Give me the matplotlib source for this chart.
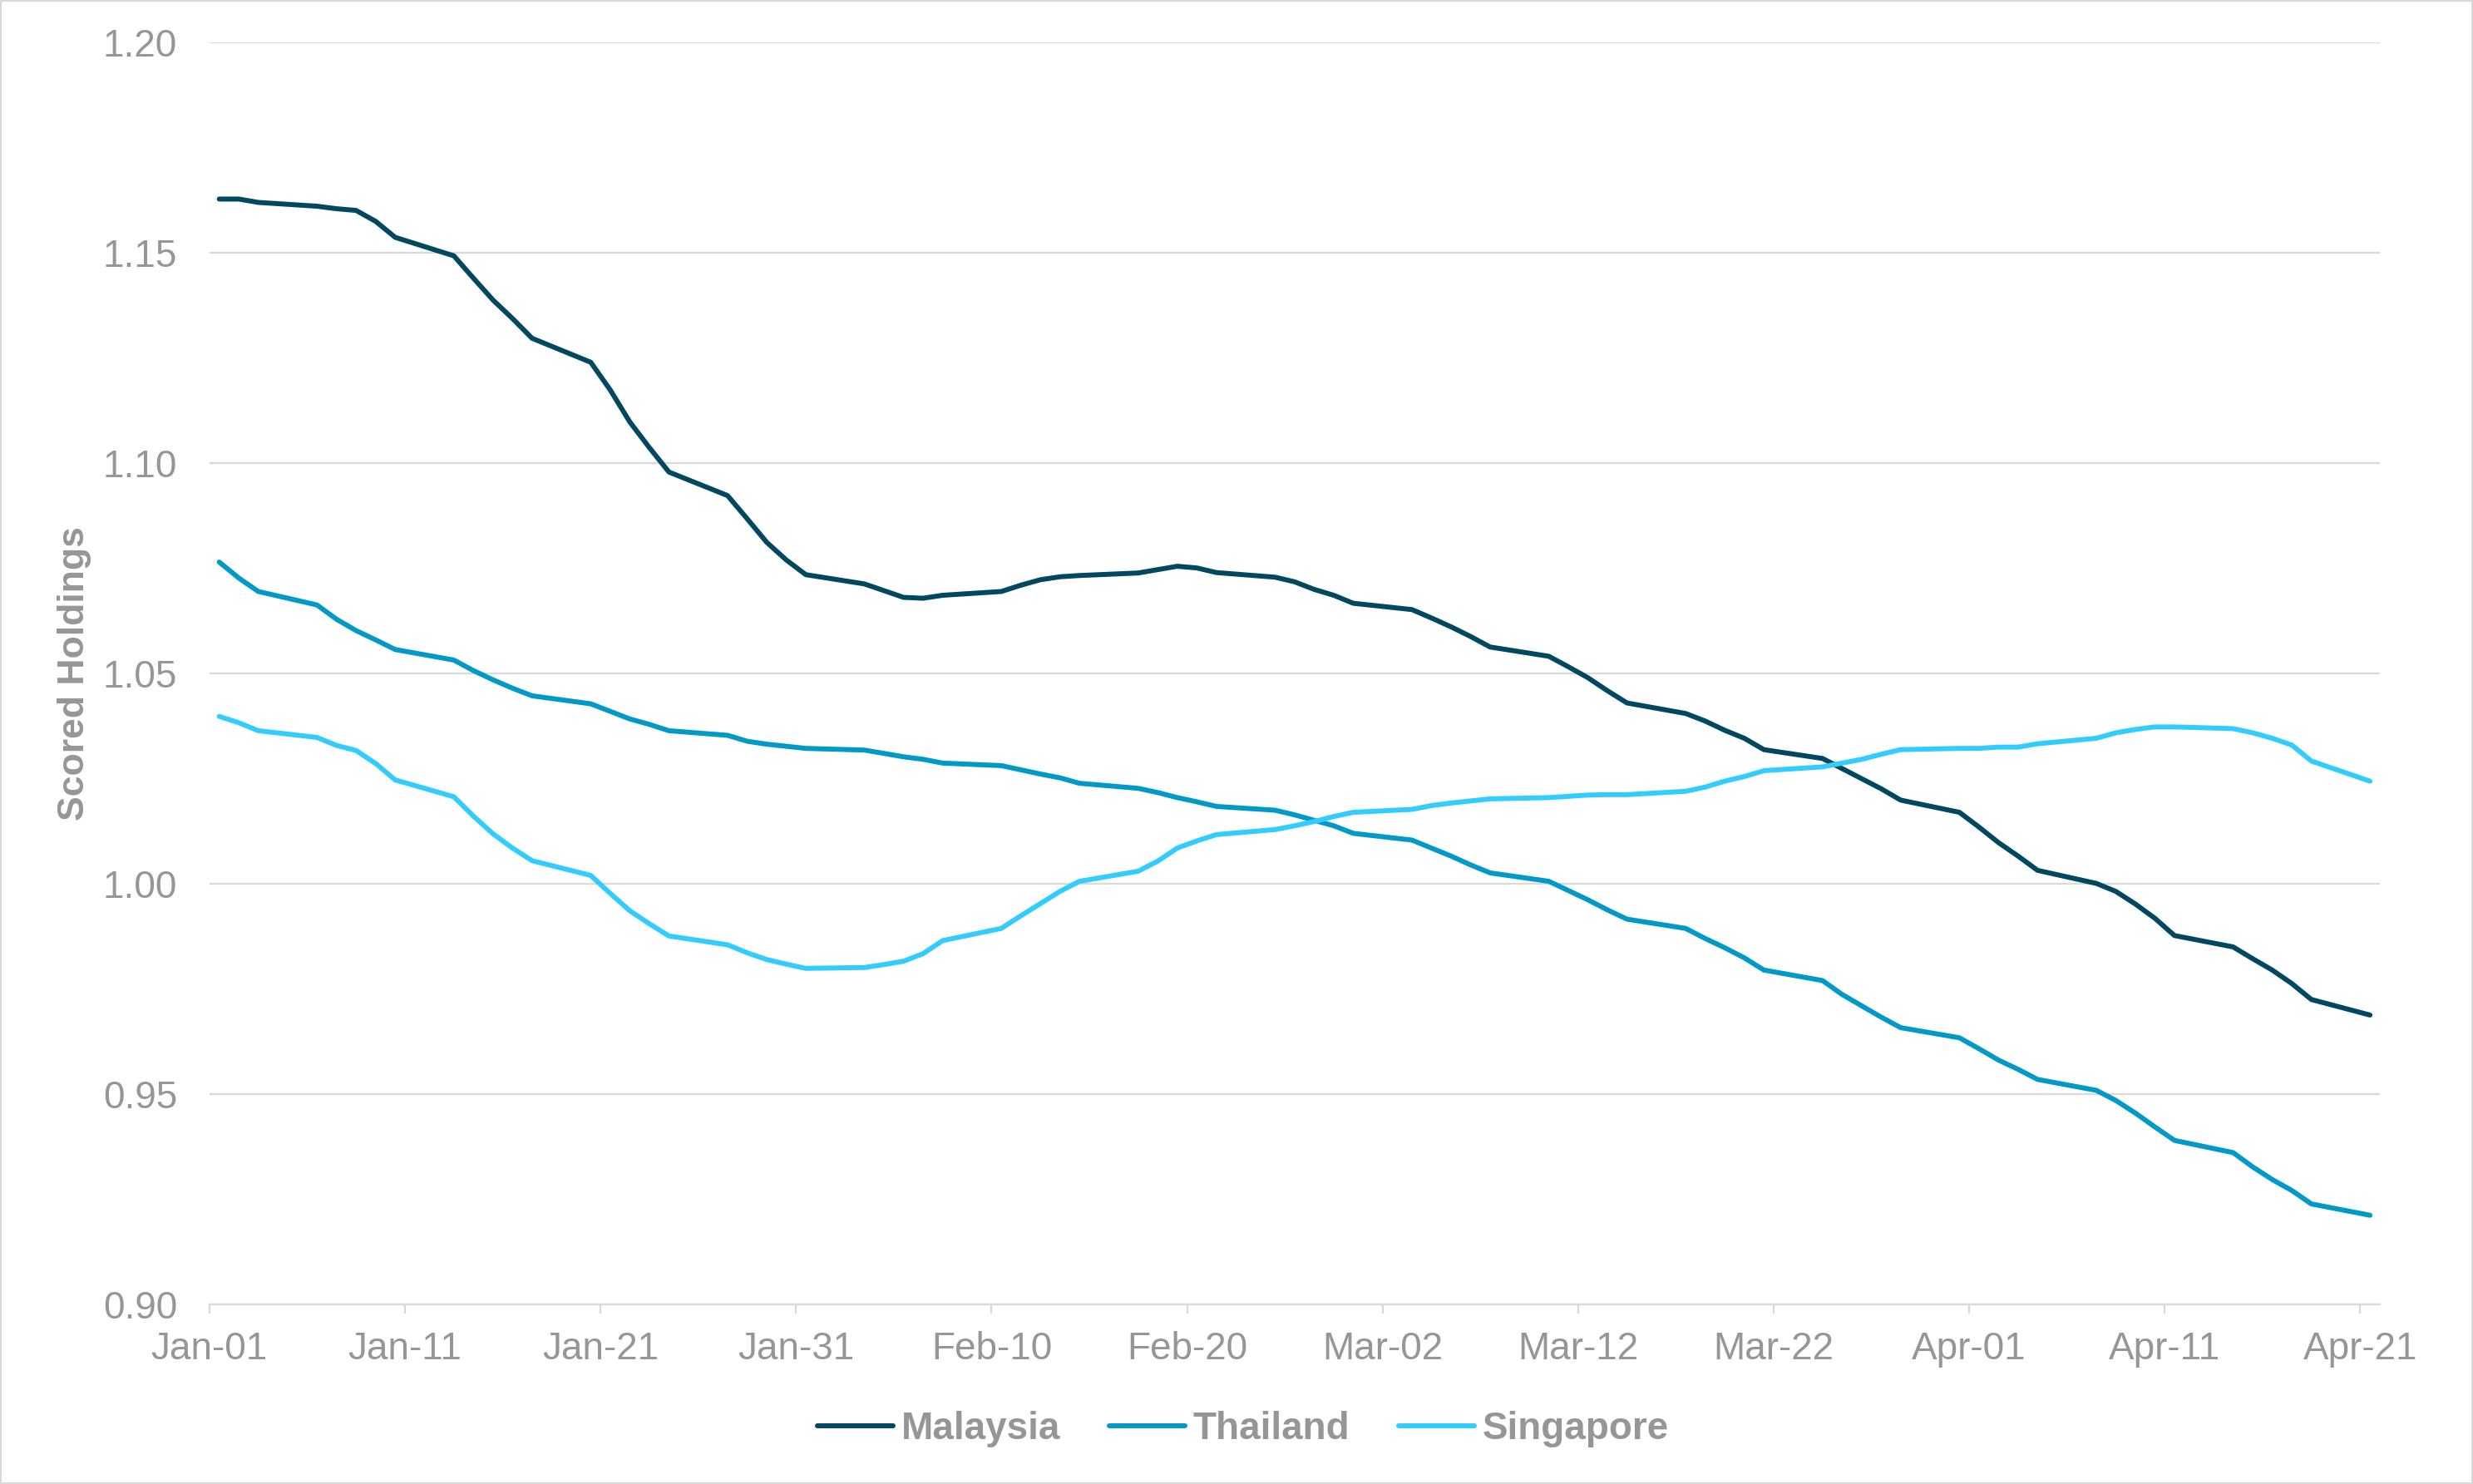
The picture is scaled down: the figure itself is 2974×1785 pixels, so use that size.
import matplotlib
matplotlib.use("Agg")
import matplotlib.pyplot as plt
import matplotlib.dates as mdates
from matplotlib.patches import Rectangle
from matplotlib.ticker import FormatStrFormatter
import pandas as pd
import numpy as np

plt.rcParams['font.family'] = ['Liberation Sans', 'DejaVu Sans']

# Business days, Jan-01 .. Apr-21
dates = pd.bdate_range('2025-01-01', '2025-04-21')

malaysia = [
    1.1628, 1.1628, 1.1620, 1.1611, 1.1605, 1.1601, 1.1575, 1.1537, 1.1493, 1.1440,
    1.1388, 1.1344, 1.1297, 1.1240, 1.1174, 1.1098, 1.1037, 1.0979, 1.0923, 1.0868,
    1.0812, 1.0770, 1.0735,
    1.0713, 1.0697, 1.0681, 1.0679, 1.0686, 1.0695, 1.0710, 1.0723, 1.0730, 1.0733,
    1.0739, 1.0747, 1.0755, 1.0751, 1.0740, 1.0729, 1.0718, 1.0700, 1.0686, 1.0667,
    1.0652, 1.0632, 1.0611, 1.0588, 1.0563, 1.0541, 1.0516, 1.0490, 1.0459, 1.0430,
    1.0405, 1.0387, 1.0365, 1.0346, 1.0319, 1.0298, 1.0274, 1.0250, 1.0226, 1.0199,
    1.0170,
    1.0135, 1.0098, 1.0066, 1.0032, 1.0001, 0.9982, 0.9952, 0.9918, 0.9877, 0.9850,
    0.9822, 0.9795, 0.9763, 0.9725, 0.9688,
]

thailand = [
    1.0765, 1.0727, 1.0695, 1.0663, 1.0629, 1.0602, 1.0580, 1.0557, 1.0532, 1.0507,
    1.0485, 1.0465, 1.0447, 1.0428, 1.0410, 1.0392, 1.0379, 1.0364, 1.0353, 1.0339,
    1.0332, 1.0327, 1.0322,
    1.0318, 1.0310, 1.0302, 1.0296, 1.0287, 1.0281, 1.0271, 1.0261, 1.0252, 1.0239,
    1.0227, 1.0217, 1.0205, 1.0195, 1.0184, 1.0175, 1.0164, 1.0151, 1.0138, 1.0120,
    1.0104, 1.0085, 1.0066, 1.0045, 1.0026, 1.0006, 0.9984, 0.9962, 0.9938, 0.9916,
    0.9894, 0.9870, 0.9848, 0.9824, 0.9795, 0.9770, 0.9737, 0.9710, 0.9683, 0.9658,
    0.9634,
    0.9608, 0.9581, 0.9559, 0.9535, 0.9509, 0.9485, 0.9455, 0.9422, 0.9390, 0.9361,
    0.9327, 0.9297, 0.9271, 0.9239, 0.9212,
]

singapore = [
    1.0398, 1.0383, 1.0364, 1.0348, 1.0329, 1.0317, 1.0286, 1.0247, 1.0207, 1.0161,
    1.0119, 1.0085, 1.0055, 1.0020, 0.9977, 0.9936, 0.9905, 0.9876, 0.9855, 0.9836,
    0.9820, 0.9809, 0.9799,
    0.9801, 0.9808, 0.9816, 0.9834, 0.9865, 0.9894, 0.9924, 0.9953, 0.9982, 1.0006,
    1.0030, 1.0054, 1.0085, 1.0102, 1.0117, 1.0129, 1.0138, 1.0148, 1.0160, 1.0170,
    1.0177, 1.0186, 1.0192, 1.0197, 1.0202, 1.0205, 1.0208, 1.0211, 1.0212, 1.0212,
    1.0220, 1.0230, 1.0244, 1.0255, 1.0269, 1.0278, 1.0287, 1.0296, 1.0308, 1.0319,
    1.0322,
    1.0322, 1.0325, 1.0325, 1.0333, 1.0346, 1.0359, 1.0367, 1.0373, 1.0373, 1.0369,
    1.0359, 1.0346, 1.0330, 1.0292, 1.0244,
]

series_names = ['Malaysia', 'Thailand', 'Singapore']
series_values = [malaysia, thailand, singapore]
series_colors = ['#00485F', '#0099C8', '#33CCFF']

tick_dates = pd.date_range('2025-01-01', periods=12, freq='10D')
y_ticks = [0.90, 0.95, 1.00, 1.05, 1.10, 1.15, 1.20]

GRAY_TXT = '#969696'
GRID = '#D9D9D9'

fig = plt.figure(figsize=(29.74, 17.85), dpi=100)
ax = fig.add_axes([0.0847, 0.121, 0.8776, 0.8503])

# points sit in the middle of each day slot (Excel date axis "between tick marks")
xpos = dates + pd.Timedelta(hours=12)
handles = []
for name, vals, col in zip(series_names, series_values, series_colors):
    h, = ax.plot(xpos, vals, color=col, lw=4.3, solid_joinstyle='round',
                 solid_capstyle='round', label=name, zorder=3)
    handles.append(h)

ax.set_xlim(pd.Timestamp('2025-01-01'), pd.Timestamp('2025-04-22'))
ax.set_xticks(tick_dates)
ax.xaxis.set_major_formatter(mdates.DateFormatter('%b-%d'))
ax.set_ylim(0.90, 1.20)
ax.set_yticks(y_ticks)
ax.yaxis.set_major_formatter(FormatStrFormatter('%.2f'))

ax.grid(axis='y', color=GRID, lw=1.6)
ax.set_axisbelow(True)
for s in ['top', 'right', 'left']:
    ax.spines[s].set_visible(False)
ax.spines['bottom'].set_color(GRID)
ax.spines['bottom'].set_linewidth(1.6)

ax.tick_params(axis='x', length=8, width=1.6, color=GRID, pad=15,
               labelcolor=GRAY_TXT, labelsize=33)
ax.tick_params(axis='y', length=0, pad=28, labelcolor=GRAY_TXT, labelsize=33)

ax.set_ylabel('Scored Holdings', fontsize=32, fontweight='bold', color=GRAY_TXT)
ax.yaxis.set_label_coords(-0.0545, 0.5)

leg = fig.legend(handles=handles, labels=series_names, loc='center',
                 bbox_to_anchor=(0.5026, 0.037), ncol=3, frameon=False,
                 prop={'weight': 'bold', 'size': 33},
                 handlelength=2.0, handletextpad=0.2, columnspacing=1.28)
for t in leg.get_texts():
    t.set_color(GRAY_TXT)

fig.patches.append(Rectangle((0, 0), 1, 1, transform=fig.transFigure, fill=False,
                             edgecolor=GRID, lw=3))

fig.savefig('out.png', dpi=100)
